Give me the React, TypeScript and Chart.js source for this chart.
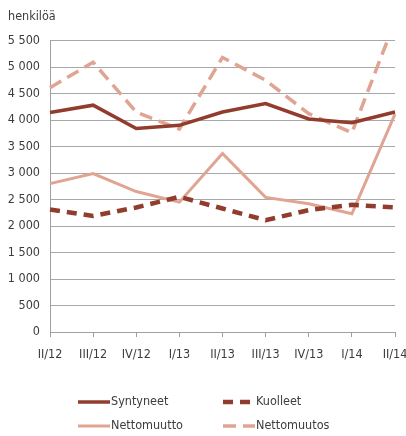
import React, { useEffect, useRef } from "react";
import { Chart, registerables } from "chart.js";

Chart.register(...registerables);

const categories = ["II/12", "III/12", "IV/12", "I/13", "II/13", "III/13", "IV/13", "I/14", "II/14"];
const syntyneet = [4140, 4280, 3840, 3900, 4150, 4310, 4020, 3950, 4150];
const kuolleet = [2310, 2190, 2350, 2550, 2330, 2110, 2300, 2400, 2350];
const nettomuutto = [2800, 2990, 2650, 2450, 3370, 2540, 2420, 2230, 4110];
const nettomuutos = [4610, 5090, 4150, 3830, 5180, 4750, 4120, 3760, 5870];
const seriesNames = ["Syntyneet", "Kuolleet", "Nettomuutto", "Nettomuutos"];
const yTicks = [0, 500, 1000, 1500, 2000, 2500, 3000, 3500, 4000, 4500, 5000, 5500];
const yTitle = "henkilöä";

const FONT = '"Liberation Sans Narrow", "DejaVu Sans Condensed", "Roboto Condensed", sans-serif';
const FS = 12.5;
const DARK = "#923c2e";
const LIGHT = "#e0a493";
const TEXT = "#3c3c3c";

const fmt = (v: number) => String(v).replace(/\B(?=(\d{3})+(?!\d))/g, " ");

const legendPlugin = {
  id: "gridLegend",
  afterDraw(chart: any) {
    const ctx = chart.ctx;
    const cols = [78, 223];
    const rows = [402, 426];
    chart.data.datasets.forEach((ds: any, i: number) => {
      const x = cols[i % 2];
      const y = rows[Math.floor(i / 2)];
      ctx.save();
      ctx.strokeStyle = ds.borderColor;
      ctx.lineWidth = ds.borderWidth;
      ctx.setLineDash(ds.borderDash || []);
      ctx.beginPath();
      ctx.moveTo(x, y);
      ctx.lineTo(x + 32, y);
      ctx.stroke();
      ctx.setLineDash([]);
      ctx.fillStyle = TEXT;
      ctx.font = `${FS}px ${FONT}`;
      ctx.textBaseline = "middle";
      ctx.textAlign = "left";
      ctx.fillText(ds.label, x + 33, y);
      ctx.restore();
    });
  },
};

export default function App() {
  const ref = useRef<HTMLCanvasElement>(null);
  useEffect(() => {
    if (!ref.current) return;
    const chart = new Chart(ref.current, {
      type: "line",
      data: {
        labels: categories,
        datasets: [
          { label: seriesNames[0], data: syntyneet, borderColor: DARK, backgroundColor: DARK, borderWidth: 3.5, pointRadius: 0, tension: 0 },
          { label: seriesNames[1], data: kuolleet, borderColor: DARK, backgroundColor: DARK, borderWidth: 4.5, borderDash: [10, 7], pointRadius: 0, tension: 0 },
          { label: seriesNames[2], data: nettomuutto, borderColor: LIGHT, backgroundColor: LIGHT, borderWidth: 3, pointRadius: 0, tension: 0 },
          { label: seriesNames[3], data: nettomuutos, borderColor: LIGHT, backgroundColor: LIGHT, borderWidth: 3.5, borderDash: [13, 7], pointRadius: 0, tension: 0 },
        ],
      },
      plugins: [legendPlugin],
      options: {
        animation: false,
        responsive: true,
        maintainAspectRatio: false,
        layout: { padding: { left: 8, right: 11, top: 0, bottom: 64 } },
        plugins: {
          legend: { display: false },
          tooltip: { enabled: false },
          title: {
            display: true,
            text: yTitle,
            align: "start",
            color: TEXT,
            font: { family: FONT, size: FS, weight: "normal", lineHeight: 1.2 },
            padding: { top: 9.5, bottom: 16 },
          },
        },
        scales: {
          x: {
            offset: false,
            grid: { display: true, drawOnChartArea: false, drawTicks: true, tickLength: 5, color: "#a0a0a0" },
            border: { display: true, color: "#a0a0a0", width: 1 },
            ticks: { color: TEXT, font: { family: FONT, size: FS, lineHeight: 1.2 }, padding: 10, maxRotation: 0, autoSkip: false },
            afterFit(scale: any) {
              scale.paddingLeft = 0;
              scale.paddingRight = 0;
            },
          },
          y: {
            min: 0,
            max: 5500,
            afterBuildTicks(scale: any) {
              scale.ticks = yTicks.map((v) => ({ value: v }));
            },
            grid: { color: "#a8a8a8", drawTicks: false, lineWidth: 1 },
            border: { display: true, color: "#a0a0a0", width: 1 },
            ticks: { color: TEXT, font: { family: FONT, size: FS }, padding: 10, callback: (v: any) => fmt(Number(v)) },
            afterFit(scale: any) {
              scale.width = 42;
            },
          },
        },
      },
    });
    return () => chart.destroy();
  }, []);
  return (
    <div style={{ position: "absolute", left: 0, top: 0, width: 406, height: 436 }}>
      <canvas ref={ref} />
    </div>
  );
}
